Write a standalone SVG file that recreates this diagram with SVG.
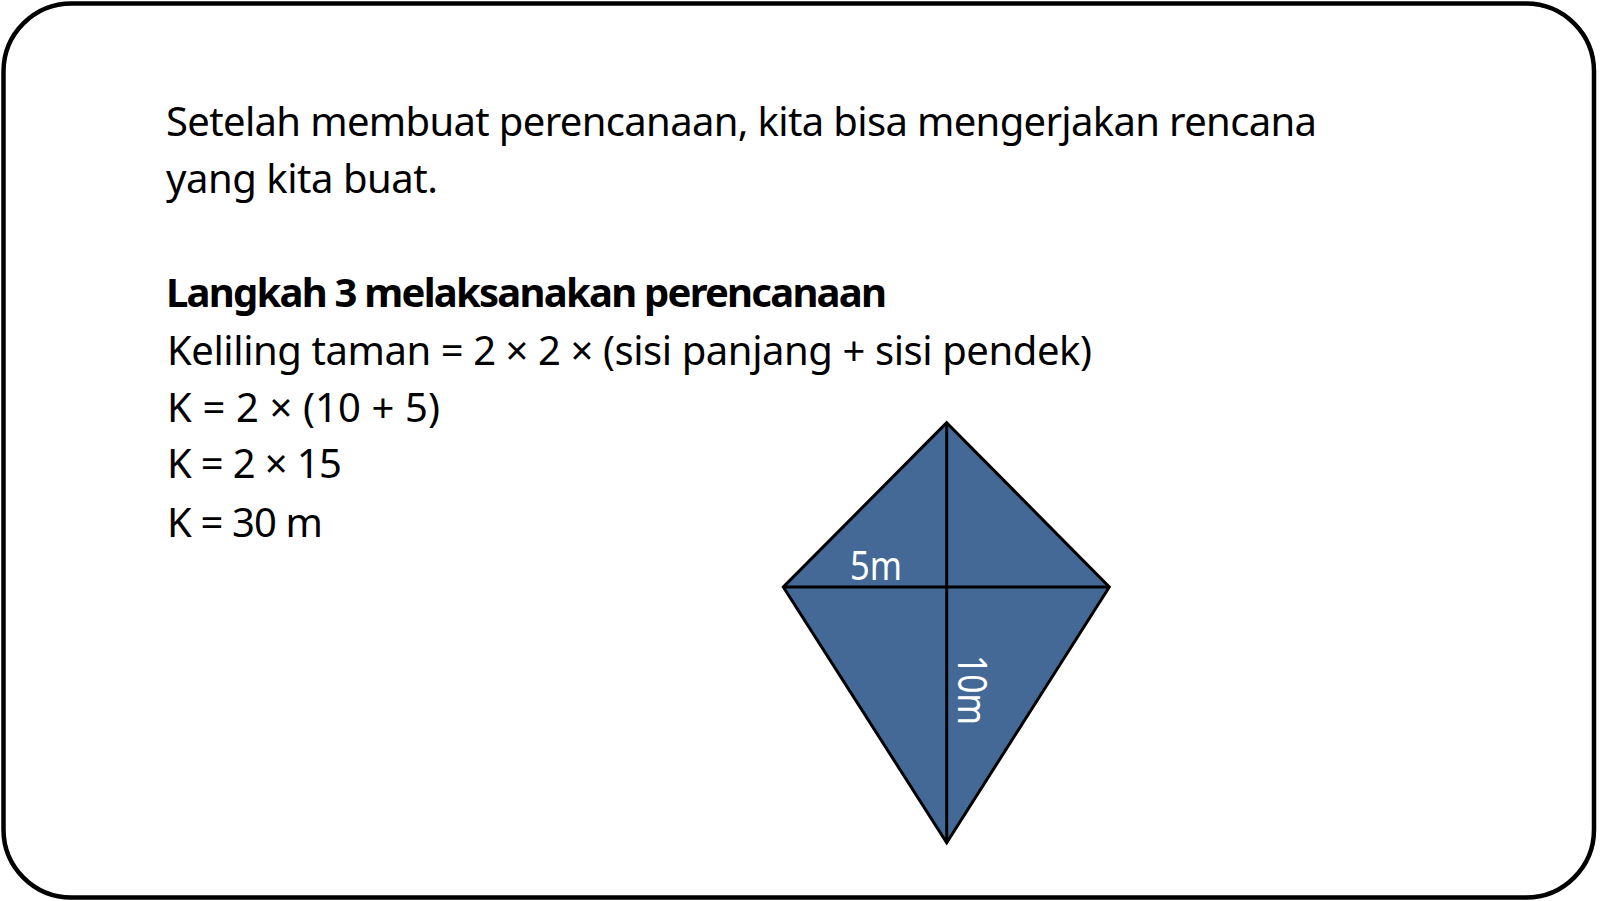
<svg xmlns="http://www.w3.org/2000/svg" width="1600" height="901" viewBox="0 0 1600 901">
<style>
.t{font-family:"Noto Sans","DejaVu Sans",sans-serif;font-size:40px;fill:#000}
.b{font-weight:bold}
.w{font-family:"Noto Sans","DejaVu Sans",sans-serif;font-size:40px;fill:#fff}
.ln{stroke:#000;stroke-width:3;fill:none}
</style>
<rect x="3.5" y="3.5" width="1590.5" height="894" rx="68" ry="68" fill="#fff" stroke="#000" stroke-width="4.5"/>
<g id="text">
<text class="t" x="166" y="136" textLength="1151" lengthAdjust="spacing">Setelah membuat perencanaan, kita bisa mengerjakan rencana</text>
<text class="t" x="166" y="193" textLength="272" lengthAdjust="spacing">yang kita buat.</text>
<text class="t b" x="166" y="307" textLength="721" lengthAdjust="spacing">Langkah 3 melaksanakan perencanaan</text>
<text class="t" x="167" y="365" textLength="925" lengthAdjust="spacing">Keliling taman = 2 × 2 × (sisi panjang + sisi pendek)</text>
<text class="t" x="167" y="422" textLength="273" lengthAdjust="spacing">K = 2 × (10 + 5)</text>
<text class="t" x="167" y="478" textLength="175" lengthAdjust="spacing">K = 2 × 15</text>
<text class="t" x="167" y="537" textLength="156" lengthAdjust="spacing">K = 30 m</text>
</g>
<g id="kite">
<polygon points="946.7,422.7 1109.3,587 946.7,842.7 783.3,587" fill="#446996" stroke="#000" stroke-width="3" stroke-linejoin="miter"/>
<line class="ln" x1="946.7" y1="422.7" x2="946.7" y2="842.7"/>
<line class="ln" x1="783.3" y1="587" x2="1109.3" y2="587"/>
<text class="w" x="850" y="580" textLength="52" lengthAdjust="spacingAndGlyphs">5m</text>
<text class="w" transform="translate(958,655) rotate(90)" x="0" y="0" textLength="70" lengthAdjust="spacingAndGlyphs">10m</text>
</g>
</svg>
